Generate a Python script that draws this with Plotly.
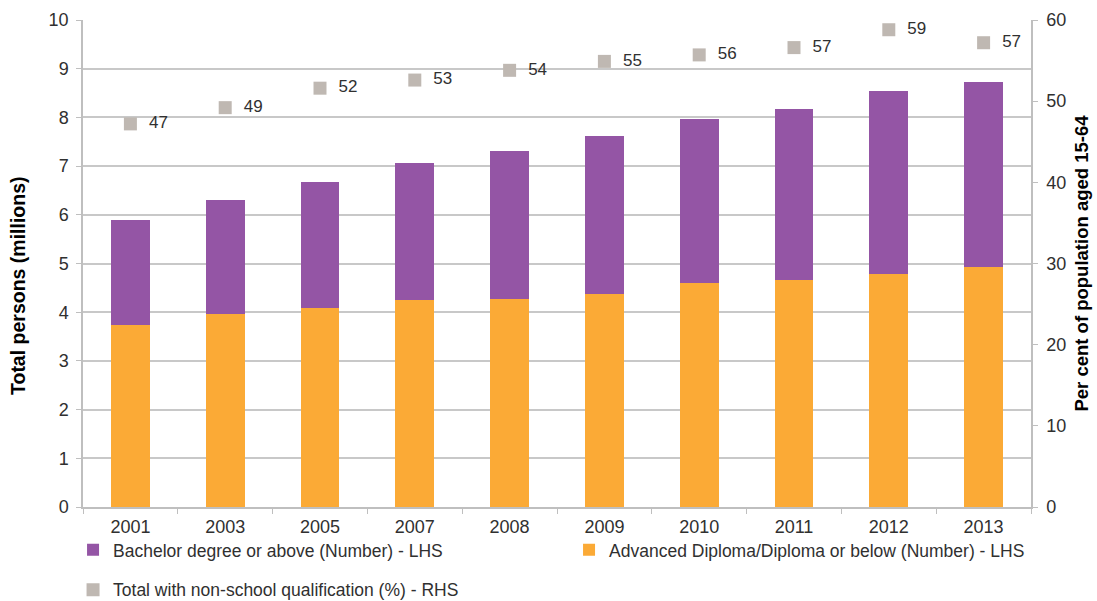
import plotly.graph_objects as go

years = ["2001", "2003", "2005", "2007", "2008", "2009", "2010", "2011", "2012", "2013"]
diploma = [3.74, 3.96, 4.09, 4.25, 4.27, 4.37, 4.60, 4.66, 4.78, 4.93]
bachelor = [2.15, 2.34, 2.58, 2.81, 3.04, 3.25, 3.37, 3.51, 3.76, 3.80]
pct_total = [47.2, 49.2, 51.6, 52.6, 53.8, 54.9, 55.7, 56.6, 58.8, 57.2]
pct_labels = ["47", "49", "52", "53", "54", "55", "56", "57", "59", "57"]

PURPLE = "#9455A5"
ORANGE = "#FBAA36"
GREY = "#BFB8B2"
TXT = "#303030"
FONT = "Liberation Sans, Arial, sans-serif"
FS = 17
TFS = 18

fig = go.Figure()
fig.add_trace(go.Bar(
    x=years, y=diploma, name="Advanced Diploma/Diploma or below (Number) - LHS",
    marker=dict(color=ORANGE, line=dict(width=0)), legend="legend3",
))
fig.add_trace(go.Bar(
    x=years, y=bachelor, name="Bachelor degree or above (Number) - LHS",
    marker=dict(color=PURPLE, line=dict(width=0)), legend="legend",
))
fig.add_trace(go.Scatter(
    x=years, y=pct_total, yaxis="y2", mode="markers+text",
    name="Total with non-school qualification (%) - RHS",
    marker=dict(symbol="square", size=13, color=GREY),
    text=pct_labels, texttemplate="\u00a0\u00a0%{text}", textposition="middle right",
    textfont=dict(size=FS, color=TXT, family=FONT),
    legend="legend2",
))

leg_common = dict(orientation="h", xanchor="left", yanchor="middle",
                  font=dict(size=17.5, color=TXT, family=FONT), bgcolor="rgba(0,0,0,0)")

fig.update_layout(
    width=1097, height=601,
    margin=dict(l=83, r=66, t=20, b=94, autoexpand=False),
    paper_bgcolor="white", plot_bgcolor="white",
    barmode="stack", bargap=0.59,
    font=dict(family=FONT, size=FS, color=TXT),
    showlegend=True,
    legend=dict(x=-0.0105, y=-0.088, **leg_common),
    legend3=dict(x=0.5127, y=-0.088, **leg_common),
    legend2=dict(x=-0.0105, y=-0.170, **leg_common),
    xaxis=dict(
        type="category", range=[-0.5, 9.5], showline=True, linecolor="#BFBFBF", linewidth=1.5,
        ticks="outside", tickson="boundaries", ticklen=5, tickcolor="#BFBFBF",
        tickfont=dict(size=TFS, color=TXT), showgrid=False, automargin=False,
        ticklabelstandoff=3,
    ),
    yaxis=dict(
        range=[0, 10], dtick=1, showgrid=True, gridcolor="#C8C8C8", gridwidth=1.5,
        showline=True, linecolor="#BFBFBF", linewidth=1.5,
        ticks="outside", ticklen=5, tickcolor="#BFBFBF",
        tickfont=dict(size=TFS, color=TXT), zeroline=False, automargin=False,
        ticklabelstandoff=4,
    ),
    yaxis2=dict(
        range=[0, 60], dtick=10, overlaying="y", side="right", showgrid=False,
        showline=True, linecolor="#BFBFBF", linewidth=1.5,
        ticks="outside", ticklen=5, tickcolor="#BFBFBF",
        tickfont=dict(size=TFS, color=TXT), zeroline=False, automargin=False,
        ticklabelstandoff=5,
        title=dict(text="<b>Per cent of population aged 15-64</b>", font=dict(size=18.5, color="#000"), standoff=10),
    ),
    annotations=[dict(
        text="<b>Total persons (millions)</b>", textangle=-90,
        xref="paper", yref="paper", x=(18 - 83) / 948, y=(507 - 286) / 487,
        xanchor="center", yanchor="middle", showarrow=False,
        font=dict(size=19.5, color="#000", family=FONT),
    )],
)

fig.write_html("out.html")
